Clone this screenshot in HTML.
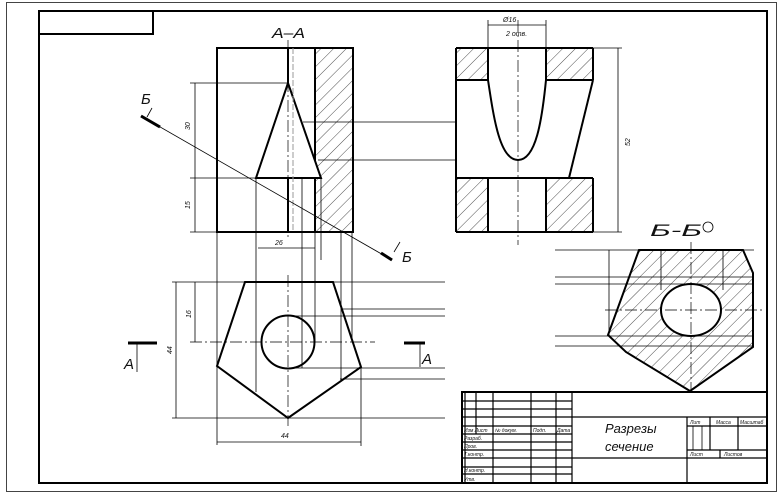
<!DOCTYPE html>
<html><head><meta charset="utf-8"><style>
html,body{margin:0;padding:0;background:#fff}
svg{display:block}
text{font-family:"Liberation Sans",sans-serif;font-style:italic;fill:#111}
</style></head><body>
<svg width="784" height="494" viewBox="0 0 784 494" xmlns="http://www.w3.org/2000/svg">
<defs>
<pattern id="h" width="9" height="9" patternUnits="userSpaceOnUse" patternTransform="rotate(45)">
<line x1="0" y1="0" x2="0" y2="9" stroke="#222" stroke-width="0.8"/>
</pattern>
</defs>
<rect x="0" y="0" width="784" height="494" fill="#fff"/>
<rect x="6.5" y="2.5" width="770" height="489" fill="none" stroke="#444" stroke-width="1"/>
<rect x="39" y="11" width="728" height="472" fill="none" stroke="#000" stroke-width="2"/>
<rect x="39" y="11" width="114" height="23" fill="none" stroke="#000" stroke-width="2"/>

<g stroke="#000" fill="none">
<rect x="315" y="48" width="38" height="184" fill="url(#h)" stroke="none"/>
<rect x="217" y="48" width="136" height="184" stroke-width="2"/>
<line x1="315" y1="48" x2="315" y2="232" stroke-width="2"/>
<polygon points="288,83 256,178 321,178" fill="#fff" stroke-width="2"/>
<line x1="288" y1="48" x2="288" y2="83" stroke-width="2"/>
<line x1="288" y1="178" x2="288" y2="232" stroke-width="2"/>
<line x1="293" y1="48" x2="293" y2="232" stroke="#999" stroke-width="1" stroke-dasharray="6,2"/>
<line x1="288" y1="40" x2="288" y2="240" stroke-width="0.7" stroke-dasharray="12,3,2,3"/>
<g stroke-width="0.8">
<line x1="190" y1="83" x2="288" y2="83"/>
<line x1="190" y1="178" x2="256" y2="178"/>
<line x1="190" y1="232" x2="217" y2="232"/>
<line x1="195" y1="83" x2="195" y2="232"/>
<line x1="303" y1="122" x2="456" y2="122"/>
<line x1="318" y1="160" x2="456" y2="160"/>
<line x1="258" y1="248" x2="315" y2="248"/>
<line x1="256" y1="178" x2="256" y2="392"/>
<line x1="217" y1="232" x2="217" y2="445"/>
<line x1="302" y1="178" x2="302" y2="368"/>
<line x1="315" y1="232" x2="315" y2="342"/>
<line x1="321" y1="178" x2="321" y2="260"/>
<line x1="341" y1="232" x2="341" y2="380"/>
<line x1="352" y1="232" x2="352" y2="342"/>
<line x1="141" y1="116" x2="392" y2="260"/>
</g>
<line x1="141" y1="116" x2="160" y2="127" stroke-width="3"/>
<line x1="381" y1="253" x2="392" y2="260" stroke-width="3"/>
<line x1="152" y1="108" x2="147" y2="117" stroke-width="0.8"/>
<line x1="400" y1="242" x2="394" y2="252" stroke-width="0.8"/>

<rect x="456" y="48" width="137" height="32" fill="url(#h)" stroke="none"/>
<rect x="456" y="178" width="137" height="54" fill="url(#h)" stroke="none"/>
<rect x="488" y="48" width="58" height="32" fill="#fff" stroke="none"/>
<rect x="488" y="178" width="58" height="54" fill="#fff" stroke="none"/>
<g stroke-width="2">
<line x1="456" y1="48" x2="593" y2="48"/>
<line x1="456" y1="48" x2="456" y2="232"/>
<line x1="456" y1="232" x2="593" y2="232"/>
<line x1="593" y1="48" x2="593" y2="80"/>
<line x1="593" y1="80" x2="569" y2="178"/>
<line x1="593" y1="178" x2="593" y2="232"/>
<line x1="456" y1="80" x2="488" y2="80"/>
<line x1="546" y1="80" x2="593" y2="80"/>
<line x1="456" y1="178" x2="593" y2="178"/>
<line x1="488" y1="48" x2="488" y2="80"/>
<line x1="546" y1="48" x2="546" y2="80"/>
<line x1="488" y1="178" x2="488" y2="232"/>
<line x1="546" y1="178" x2="546" y2="232"/>
<path d="M488,80 C494,120 500,160 518,160 C536,160 542,120 546,80"/>
</g>
<line x1="518" y1="20" x2="518" y2="245" stroke-width="0.7" stroke-dasharray="12,3,2,3"/>
<g stroke-width="0.8">
<line x1="488" y1="20" x2="488" y2="48"/>
<line x1="546" y1="20" x2="546" y2="48"/>
<line x1="488" y1="25" x2="546" y2="25"/>
<line x1="593" y1="48" x2="622" y2="48"/>
<line x1="593" y1="232" x2="622" y2="232"/>
<line x1="618" y1="48" x2="618" y2="232"/>
</g>

<polygon points="245,282 333,282 361,367 288,418 217,366" stroke-width="2"/>
<circle cx="288" cy="342" r="26.5" stroke-width="2"/>
<line x1="190" y1="342" x2="375" y2="342" stroke-width="0.7" stroke-dasharray="12,3,2,3"/>
<line x1="288" y1="275" x2="288" y2="426" stroke-width="0.7" stroke-dasharray="12,3,2,3"/>
<g stroke-width="0.8">
<line x1="172" y1="282" x2="445" y2="282"/>
<line x1="172" y1="418" x2="445" y2="418"/>
<line x1="342" y1="309" x2="445" y2="309"/>
<line x1="288" y1="316" x2="445" y2="316"/>
<line x1="288" y1="368" x2="445" y2="368"/>
<line x1="340" y1="379" x2="445" y2="379"/>
<line x1="176" y1="282" x2="176" y2="418"/>
<line x1="195" y1="282" x2="195" y2="342"/>
<line x1="217" y1="442" x2="361" y2="442"/>
<line x1="361" y1="367" x2="361" y2="446"/>
<line x1="137" y1="343" x2="137" y2="372"/>
<line x1="420" y1="343" x2="420" y2="367"/>
</g>
<line x1="128" y1="343" x2="157" y2="343" stroke-width="3"/>
<line x1="404" y1="343" x2="425" y2="343" stroke-width="3"/>

<polygon points="639,250 743,250 753,273 753,347 690,391 626,352 608,335" fill="url(#h)" stroke="none"/>
<g stroke-width="0.8">
<line x1="555" y1="250" x2="754" y2="250"/>
<line x1="555" y1="277" x2="753" y2="277"/>
<line x1="555" y1="284" x2="753" y2="284"/>
<line x1="555" y1="336" x2="753" y2="336"/>
<line x1="555" y1="346" x2="753" y2="346"/>
<line x1="609" y1="250" x2="609" y2="335"/>
<line x1="661" y1="250" x2="661" y2="290"/>
<line x1="723" y1="250" x2="723" y2="290"/>
</g>
<polygon points="639,250 743,250 753,273 753,347 690,391 626,352 608,335" stroke-width="2"/>
<ellipse cx="691" cy="310" rx="30" ry="26" fill="#fff" stroke-width="2"/>
<line x1="605" y1="310" x2="762" y2="310" stroke-width="0.7" stroke-dasharray="12,3,2,3"/>
<line x1="691" y1="242" x2="691" y2="395" stroke-width="0.7" stroke-dasharray="12,3,2,3"/>
<circle cx="708" cy="227" r="5" stroke-width="0.8"/>

<rect x="462" y="392" width="305" height="91" fill="#fff" stroke-width="2"/>
<g stroke-width="1.2">
<line x1="572" y1="392" x2="572" y2="483"/>
<line x1="687" y1="417" x2="687" y2="483"/>
<line x1="572" y1="417" x2="767" y2="417"/>
<line x1="572" y1="458" x2="767" y2="458"/>
<line x1="687" y1="426" x2="767" y2="426"/>
<line x1="687" y1="450" x2="767" y2="450"/>
<line x1="710" y1="417" x2="710" y2="450"/>
<line x1="738" y1="417" x2="738" y2="450"/>
<line x1="720" y1="450" x2="720" y2="458"/>
<line x1="465" y1="392" x2="465" y2="483"/>
<line x1="476" y1="392" x2="476" y2="434"/>
<line x1="493" y1="392" x2="493" y2="483"/>
<line x1="531" y1="392" x2="531" y2="483"/>
<line x1="556" y1="392" x2="556" y2="483"/>
<line x1="462" y1="401" x2="572" y2="401"/>
<line x1="462" y1="409" x2="572" y2="409"/>
<line x1="462" y1="417" x2="572" y2="417"/>
<line x1="462" y1="426" x2="572" y2="426"/>
<line x1="462" y1="434" x2="572" y2="434"/>
<line x1="462" y1="442" x2="572" y2="442"/>
<line x1="462" y1="450" x2="572" y2="450"/>
<line x1="462" y1="458" x2="572" y2="458"/>
<line x1="462" y1="467" x2="572" y2="467"/>
<line x1="462" y1="474" x2="572" y2="474"/>
</g>
<line x1="693" y1="426" x2="693" y2="450" stroke-width="0.8"/>
<line x1="702" y1="426" x2="702" y2="450" stroke-width="0.8"/>
</g>

<text x="272" y="38" font-size="15" textLength="33" lengthAdjust="spacingAndGlyphs">A–A</text>
<text x="141" y="104" font-size="15">Б</text>
<text x="402" y="262" font-size="15">Б</text>
<text x="124" y="369" font-size="15">A</text>
<text x="422" y="364" font-size="15">A</text>
<text x="650" y="236" font-size="17" textLength="52" lengthAdjust="spacingAndGlyphs">Б-Б</text>
<text x="503" y="22" font-size="7">Ø16</text>
<text x="506" y="36" font-size="7">2 отв.</text>
<text x="275" y="245" font-size="7">26</text>
<text x="281" y="438" font-size="7">44</text>
<text font-size="7" transform="translate(190,130) rotate(-90)">30</text>
<text font-size="7" transform="translate(190,209) rotate(-90)">15</text>
<text font-size="7" transform="translate(630,146) rotate(-90)">52</text>
<text font-size="7" transform="translate(172,354) rotate(-90)">44</text>
<text font-size="7" transform="translate(191,318) rotate(-90)">16</text>
<text x="605" y="433" font-size="13">Разрезы</text>
<text x="605" y="451" font-size="13">сечение</text>
<g font-size="5">
<text x="690" y="424">Лит</text><text x="716" y="424">Масса</text><text x="740" y="424">Масштаб</text>
<text x="690" y="456">Лист</text><text x="724" y="456">Листов</text>
<text x="464" y="432">Изм Лист</text><text x="495" y="432">№ докум.</text><text x="533" y="432">Подп.</text><text x="557" y="432">Дата</text>
<text x="464" y="440">Разраб.</text><text x="464" y="448">Пров.</text><text x="464" y="456">Т.контр.</text>
<text x="464" y="472">Н.контр.</text><text x="464" y="481">Утв.</text>
</g>
</svg>
</body></html>
